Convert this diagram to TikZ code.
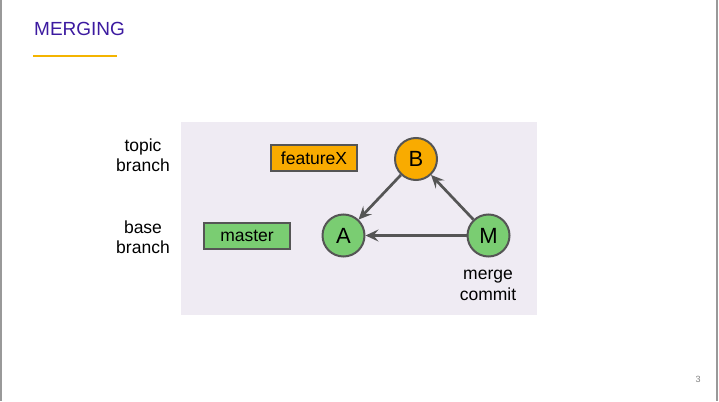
\documentclass[tikz,border=0pt]{standalone}
\usepackage{fontspec}
\setmainfont{Liberation Sans}
\usetikzlibrary{arrows.meta}

\definecolor{titlecol}{RGB}{60,26,160}
\definecolor{rulecol}{RGB}{244,180,0}
\definecolor{panelcol}{RGB}{239,235,243}
\definecolor{linecol}{RGB}{85,85,85}
\definecolor{greencol}{RGB}{122,205,114}
\definecolor{orangecol}{RGB}{249,171,0}

\begin{document}
\begin{tikzpicture}[
    x=1pt, y=-1pt,
    commit/.style={circle, draw=linecol, line width=2pt, minimum size=42pt, inner sep=0pt, font=\fontsize{22}{25}\selectfont},
    branchbox/.style={rectangle, draw=linecol, line width=2pt, minimum width=86pt, minimum height=26pt, inner sep=0pt, font=\fontsize{17.5}{20.5}\selectfont},
    note/.style={align=center, inner sep=0pt, font=\fontsize{17.5}{20.5}\selectfont},
    arrow/.style={-{Stealth[length=13pt, width=12pt, inset=5pt]}, line width=2.7pt, draw=linecol}
]
\useasboundingbox (0,0) rectangle (719,401);

% slide edges
\draw[gray!80, line width=1.5pt] (1,0) -- (1,401);
\draw[gray!80, line width=1.5pt] (717,0) -- (717,401);

% title
\node[anchor=base west, inner sep=0pt, text=titlecol, font=\fontsize{19}{22}\selectfont] (title) at (34,36) {MERGING};
\draw[rulecol, line width=2pt] (33,56) -- (117,56);

% panel
\fill[panelcol] (181,122) rectangle (537,315);

% side labels
\node[note] (topiclbl) at (143,155) {topic\\branch};
\node[note] (baselbl) at (143,237) {base\\branch};

% branches
\node[branchbox, fill=orangecol] (featureX) at (314,158) {featureX};
\node[branchbox, fill=greencol] (master) at (247,235.5) {master};

% commits
\node[commit, fill=orangecol] (B) at (416,159) {B};
\node[commit, fill=greencol] (A) at (343.5,235.5) {A};
\node[commit, fill=greencol] (M) at (488.5,235.5) {M};
\node[note] (mergelbl) at (488,285.5) {merge\\commit};

\draw[arrow] (B) -- (A);
\draw[arrow] (M) -- (A);
\draw[arrow] (M) -- (B);

% page number
\node[anchor=base, inner sep=0pt, text=gray, font=\fontsize{9}{11}\selectfont] (pagenum) at (698,382.5) {3};

\end{tikzpicture}
\end{document}
